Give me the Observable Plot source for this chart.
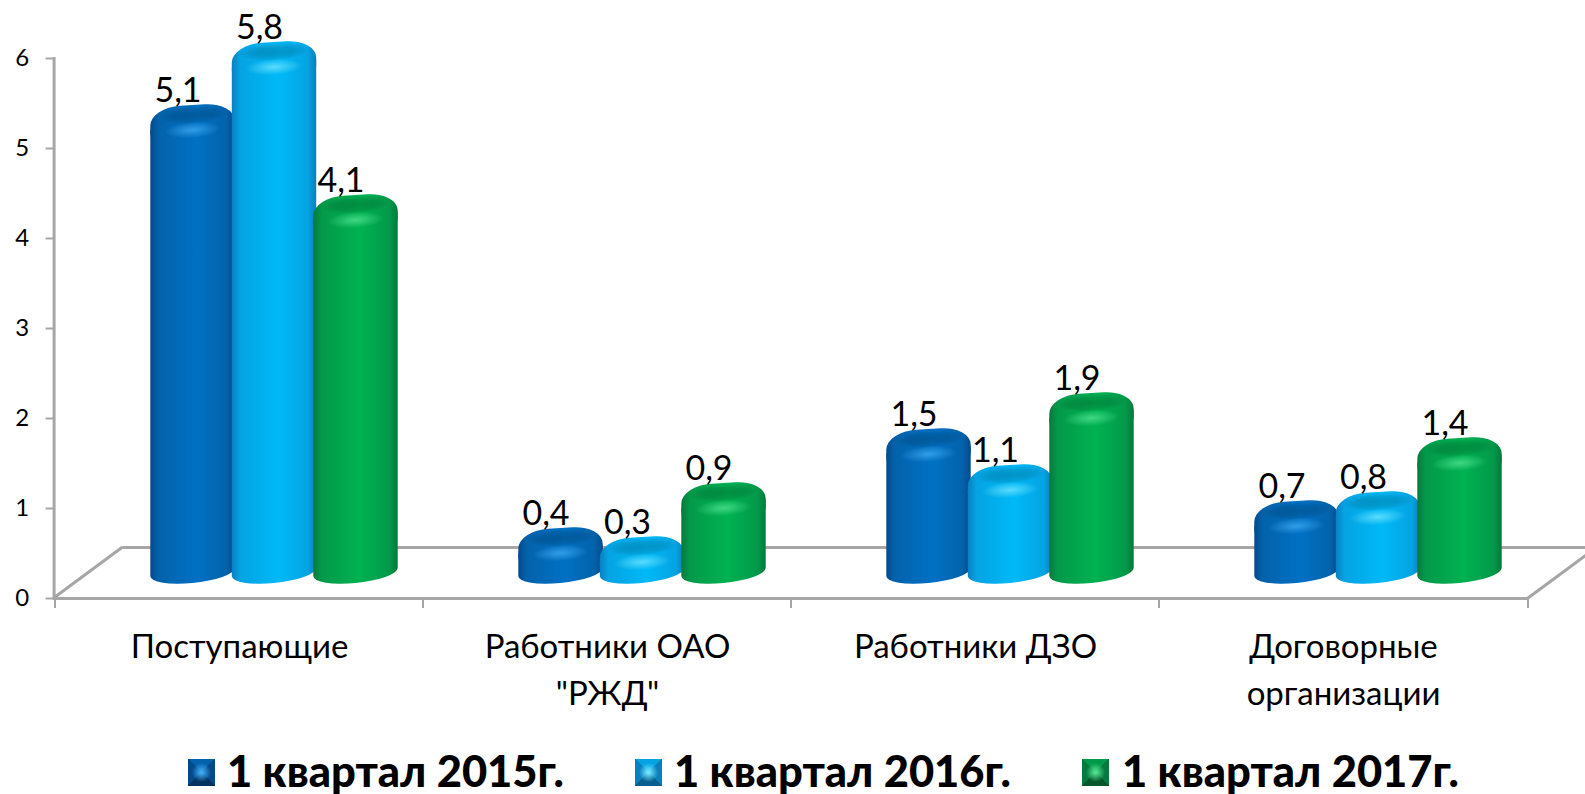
<!DOCTYPE html>
<html lang="ru"><head><meta charset="utf-8">
<script src="https://cdn.jsdelivr.net/npm/d3@7"></script>
<script src="https://cdn.jsdelivr.net/npm/@observablehq/plot@0.6"></script>
<style>
html,body{margin:0;padding:0;background:#fff;overflow:hidden}
#chart svg{display:block}
g[fill^="url(#"] rect{transform-box:fill-box;transform-origin:center;transform:skewY(-3.5deg)}
g[fill^="url(#body"] rect{transform:skewY(-5.5deg)}
#legend{position:relative;height:49px;font:900 43.5px Lato,"Noto Sans",sans-serif;color:#000}
#legend .sw{position:absolute;top:14px;width:27px;height:27px}
#legend .tx{position:absolute;top:5px;height:40px;line-height:40px;white-space:nowrap}
</style></head><body>
<div id="chart"></div>
<div id="legend"></div>
<script>
const categories = ["Поступающие", "Работники ОАО\n\"РЖД\"", "Работники ДЗО", "Договорные\nорганизации"];
const seriesNames = ["1 квартал 2015г.", "1 квартал 2016г.", "1 квартал 2017г."];
const q2015 = [5.1, 0.4, 1.5, 0.7];
const q2016 = [5.8, 0.3, 1.1, 0.8];
const q2017 = [4.1, 0.9, 1.9, 1.4];
const seriesValues = [q2015, q2016, q2017];
const yTicks = [0, 1, 2, 3, 4, 5, 6];
const palette = [
  {deep:"#04335f", dark:"#034a8c", mid:"#0462ab", bright:"#0071c4", glow:"#3fa8f0"},
  {deep:"#075f8f", dark:"#0a7fbf", mid:"#05a3e2", bright:"#00b9f7", glow:"#6fe4ff"},
  {deep:"#05562b", dark:"#067a3c", mid:"#03994a", bright:"#00b251", glow:"#4fe08f"}
];
const gray = "#a6a6a6";
const W = 1585, H = 745, bandW = (1528-53.6)/4, barW = 85, step = 81.5, depthX = 69, depthPx = 51;
const cx = 35, cy = -26, inset = (bandW-barW)/2;
const rows = s => categories.map((c,j) => ({category:c, value:seriesValues[s][j]}));

const defs = () => {
  const d = d3.create("svg:defs");
  palette.forEach((p,i) => {
    ["body","cap"].forEach(name => {
      const g = d.append("linearGradient").attr("id",name+i);
      [[0,p.dark],[.1,p.mid],[.55,p.bright],[.9,p.mid],[1,p.dark]].forEach(([o,c]) => g.append("stop").attr("offset",o).attr("stop-color",c));
    });
    const rh = d.append("radialGradient").attr("id","glow"+i);
    rh.append("stop").attr("offset",0).attr("stop-color",p.glow).attr("stop-opacity",.8);
    rh.append("stop").attr("offset",1).attr("stop-color",p.glow).attr("stop-opacity",0);
  });
  const rd = d.append("radialGradient").attr("id","dish");
  rd.append("stop").attr("offset",0).attr("stop-color","#000").attr("stop-opacity",.2);
  rd.append("stop").attr("offset",.6).attr("stop-color","#000").attr("stop-opacity",.13);
  rd.append("stop").attr("offset",1).attr("stop-color","#000").attr("stop-opacity",0);
  return d.node();
};
const floorSides = (i, s, v, dim) => {
  const g = d3.create("svg:g").attr("stroke",gray).attr("stroke-width",3).attr("fill","none");
  const y0 = s.y(0), l = dim.marginLeft, r = dim.width-dim.marginRight;
  [l,r].forEach(x => g.append("path").attr("d",`M${x},${y0}L${x+depthX},${y0-depthPx}`));
  categories.forEach(c => g.append("path").attr("stroke-width",2).attr("d",`M${s.x(c)},${y0}v10`));
  g.append("path").attr("stroke-width",2).attr("d",`M${r},${y0}v10`);
  return g.node();
};
const cylinders = seriesValues.flatMap((_,k) => {
  const data = rows(k), dx = cx+(k-1)*step;
  const base = {x:"category", dx, dy:cy, insetLeft:inset, insetRight:inset};
  return [
    Plot.barY(data,{...base, y1:()=>0, y2:"value", fill:`url(#body${k})`, insetTop:3, insetBottom:-11, rx:barW/2, ry:11}),
    Plot.barY(data,{...base, y1:"value", y2:"value", fill:`url(#cap${k})`, insetTop:-8, insetBottom:-36, rx:30, ry:18}),
    Plot.barY(data,{...base, y1:"value", y2:"value", fill:"url(#dish)", insetLeft:inset+8, insetRight:inset+8, insetTop:-7, insetBottom:-11, rx:35, ry:9}),
    Plot.barY(data,{...base, y1:"value", y2:"value", fill:`url(#glow${k})`, insetLeft:inset+14, insetRight:inset+14, insetTop:9, insetBottom:-25, rx:28, ry:8})
  ];
});
const labels = seriesValues.map((_,k) => Plot.text(rows(k),{
  x:"category", y:"value", text:d=>String(d.value).replace(".",","),
  dx:cx+(k-1)*step-15, dy:cy-12, lineAnchor:"bottom", fontSize:34, fill:"#000"
}));

const plot = Plot.plot({
  width:W, height:H, marginLeft:53.6, marginRight:W-1528, marginTop:58, marginBottom:H-598,
  style:{fontFamily:'Lato,"Noto Sans",sans-serif', background:"#fff", overflow:"hidden"},
  x:{type:"band", domain:categories, padding:0, label:null},
  y:{domain:[0,6], label:null},
  marks:[
    defs,
    Plot.ruleY([0],{stroke:gray, strokeWidth:3, dy:-depthPx, dx:depthX}),
    Plot.ruleY([0],{stroke:gray, strokeWidth:3}),
    Plot.frame({anchor:"left", stroke:gray, strokeWidth:3}),
    floorSides,
    Plot.axisY({ticks:yTicks, tickFormat:d=>d, tickSize:8, tickPadding:17, stroke:gray, strokeWidth:2, fill:"#000", fontSize:24, label:null}),
    Plot.axisX({tickSize:0, tickPadding:27, fontSize:33, lineHeight:1.4, fill:"#000", label:null}),
    ...cylinders,
    ...labels
  ]
});
document.getElementById("chart").append(plot);

const lg = d3.select("#legend");
const swX = [188,635,1082], txX = [227,674,1122];
seriesNames.forEach((n,i) => {
  const p = palette[i];
  lg.append("span").attr("class","sw").style("left",swX[i]+"px")
    .style("background",`radial-gradient(circle at 50% 50%, ${p.glow} 0 6%, transparent 50%), conic-gradient(from -45deg, ${p.mid} 0 25%, ${p.dark} 25% 50%, ${p.deep} 50% 75%, ${p.dark} 75%)`);
  lg.append("span").attr("class","tx").style("left",txX[i]+"px").text(n);
});
</script></body></html>
